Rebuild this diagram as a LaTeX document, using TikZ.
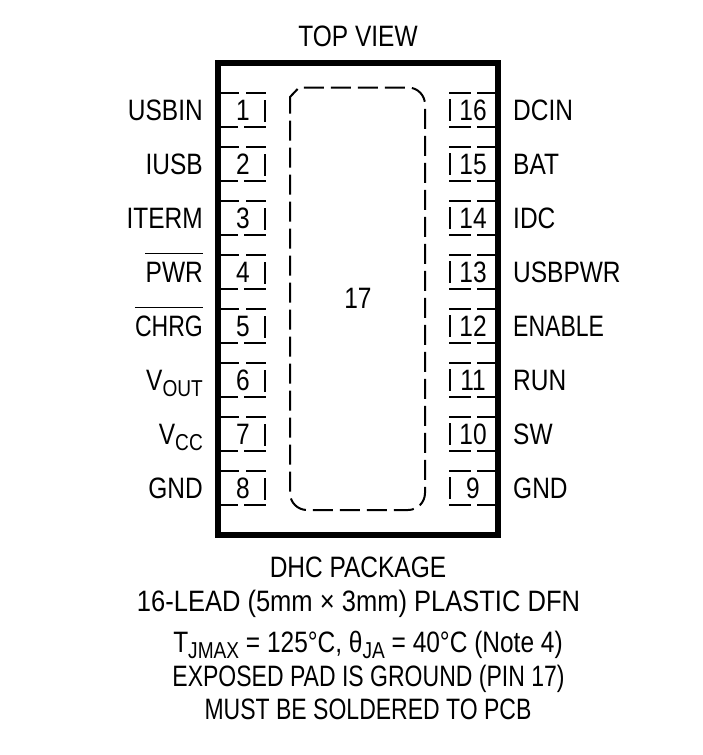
\documentclass[tikz,border=0pt]{standalone}
\usepackage{fontspec}
\setmainfont[FakeStretch=0.83]{Liberation Sans}
\newfontfamily\narrowf[FakeStretch=0.78]{Liberation Sans}
\newfontfamily\widef[FakeStretch=0.865]{Liberation Sans}
\usetikzlibrary{calc}
\newcommand{\lowsub}[1]{\raisebox{-6pt}{\fontsize{23}{23}\selectfont #1}}
\begin{document}
\begin{tikzpicture}[x=1pt,y=-1pt,
  txt/.style={inner sep=0pt,font=\fontsize{29.5}{30}\selectfont,text=black},
  lbl/.style={txt,anchor=base east},
  rbl/.style={txt,anchor=base west},
  num/.style={txt,anchor=base},
  captext/.style={txt,anchor=base},
  pad/.style={line width=2pt,black},
  bar/.style={line width=1.2pt,black}]
\useasboundingbox (0,0) rectangle (702,755);
\fill[white] (0,0) rectangle (702,755);
\node[rectangle,draw=black,line width=6pt,minimum width=280.5pt,minimum height=472pt,inner sep=0pt,outer sep=0pt,anchor=north west] (body) at (217.5,63) {};
% exposed pad
\draw[pad,dash pattern=on 20pt off 7pt]
  (290,106) -- (290,97) -- (299,87.5) -- (408,87.5) arc[start angle=90,end angle=0,radius=17pt]
  -- (425,493) arc[start angle=0,end angle=-90,radius=17pt]
  -- (307,510) arc[start angle=-90,end angle=-180,radius=17pt] -- (290,106);
\node[num] (n17) at (358,308) {17};
% left pins
\foreach \i/\t/\n in {0/USBIN/1,1/IUSB/2,2/ITERM/3,3/PWR/4,4/{\narrowf CHRG}/5,5/{V\lowsub{OUT}}/6,6/{V\lowsub{CC}}/7,7/GND/8}{
  \pgfmathsetmacro{\yy}{54*\i}
  \begin{scope}[yshift=-\yy pt]
    \draw[pad] (221,93.3) -- (239,93.3) (246,93.3) -- (266,93.3);
    \draw[pad] (221,126.5) -- (238,126.5) (244,126.5) -- (265.5,126.5);
    \draw[pad] (265.3,100) -- (265.3,122);
    \node[num] (pl\n) at (243,120.7) {\n};
    \node[lbl] (l\n) at (203,120.7) {\t};
  \end{scope}
}
\draw[bar] ([yshift=29pt]l4.base west) -- ([yshift=29pt]l4.base east);
\draw[bar] ([yshift=29pt]l5.base west) -- ([yshift=29pt]l5.base east);
% right pins
\foreach \i/\t/\n in {0/DCIN/16,1/BAT/15,2/IDC/14,3/USBPWR/13,4/{\narrowf ENABLE}/12,5/RUN/11,6/SW/10,7/GND/9}{
  \pgfmathsetmacro{\yy}{54*\i}
  \begin{scope}[yshift=-\yy pt]
    \draw[pad] (449,93.3) -- (471,93.3) (477,93.3) -- (495,93.3);
    \draw[pad] (449,126.5) -- (471,126.5) (477,126.5) -- (495,126.5);
    \draw[pad] (449.5,99) -- (449.5,121);
    \node[num] (pr\n) at (473,120.7) {\n};
    \node[rbl] (r\n) at (513,120.7) {\t};
  \end{scope}
}
\node[captext] (top) at (358,46) {TOP VIEW};
\node[captext] (c1) at (358,577) {DHC PACKAGE};
\node[captext] (c2) at (358.5,611.5) {\widef 16-LEAD (5mm × 3mm) PLASTIC DFN};
\node[captext] (c3) at (368,652) {T\lowsub{JMAX} = 125°C, θ\lowsub{JA} = 40°C (Note 4)};
\node[captext] (c4) at (368.5,686) {\narrowf EXPOSED PAD IS GROUND (PIN 17)};
\node[captext] (c5) at (368,719.5) {\narrowf MUST BE SOLDERED TO PCB};
\end{tikzpicture}
\end{document}
